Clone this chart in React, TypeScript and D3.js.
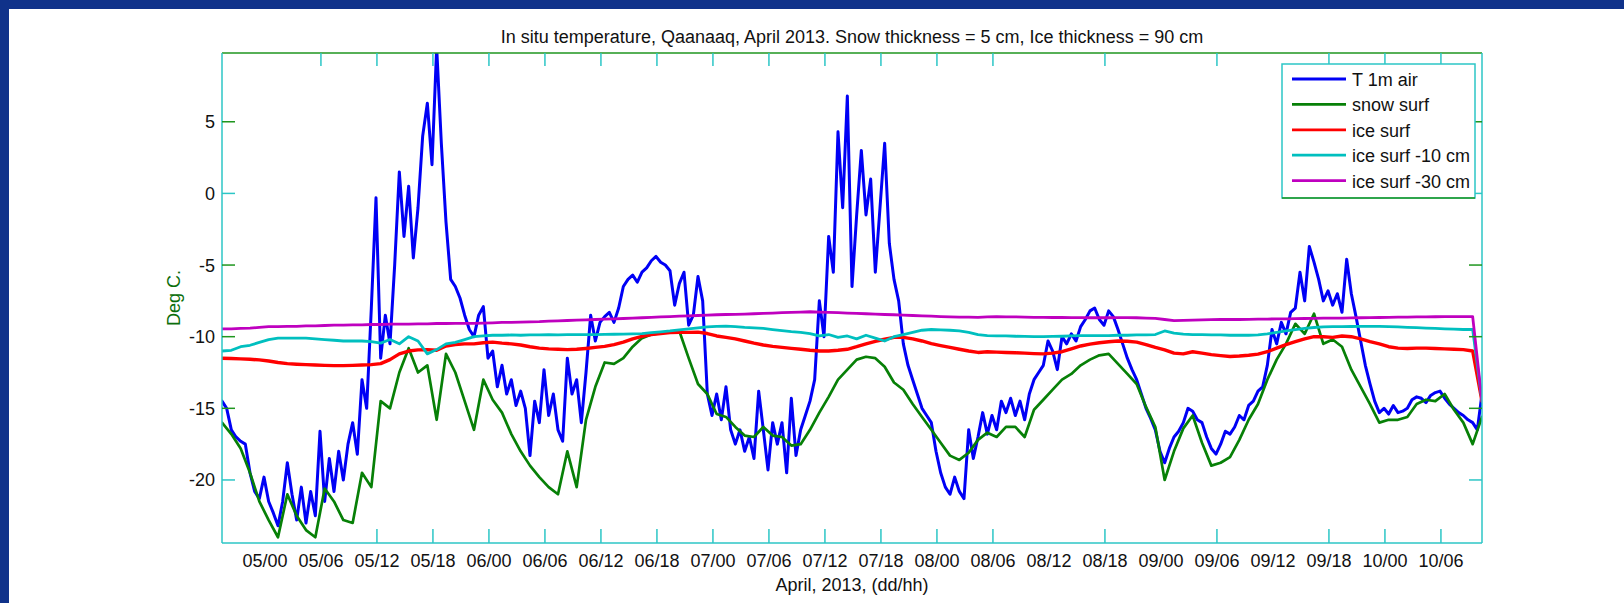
import React from "react";
import * as d3 from "d3";

// ---------- data ----------
const START = Date.UTC(2013, 3, 4, 19, 24); // first sample, 04/19:24
const END = Date.UTC(2013, 3, 10, 10, 24); // last sample, 10/10:24
const HOUR = 3600 * 1000;
const BLUE_STEP = 0.5; // hours
const SMOOTH_STEP = 1; // hours

const title = "In situ temperature, Qaanaaq, April 2013. Snow thickness = 5 cm, Ice thickness = 90 cm";
const xAxisTitle = "April, 2013, (dd/hh)";
const yAxisTitle = "Deg C.";

const xTickLabels = [
  "05/00", "05/06", "05/12", "05/18", "06/00", "06/06", "06/12", "06/18",
  "07/00", "07/06", "07/12", "07/18", "08/00", "08/06", "08/12", "08/18",
  "09/00", "09/06", "09/12", "09/18", "10/00", "10/06",
];
const hiddenBottomTicks = ["05/00", "05/06", "08/12", "09/00", "09/12"];
const hiddenTopTicks = ["05/00", "08/12", "09/00", "09/12"];
const yTicks = [5, 0, -5, -10, -15, -20];
const yTickLabels = ["5", "0", "-5", "-10", "-15", "-20"];

const seriesNames = ["T 1m air", "snow surf", "ice surf", "ice surf -10 cm", "ice surf -30 cm"];

// T 1m air, every 30 min
const airT = [
  -14.5, -15.0, -16.5, -17.0, -17.3, -17.5, -19.5, -20.8, -21.3, -19.8,
  -21.5, -22.3, -23.2, -21.5, -18.8, -21.0, -22.8, -20.5, -23.0, -20.8,
  -22.5, -16.6, -21.5, -18.5, -20.8, -18.0, -20.0, -17.5, -16.0, -18.2,
  -13.0, -15.0, -8.0, -0.3, -11.5, -8.5, -10.5, -5.0, 1.5, -3.0,
  0.5, -4.5, -1.0, 4.0, 6.3, 2.0, 10.2, 3.5, -2.0, -6.0,
  -6.5, -7.3, -8.5, -9.5, -10.0,
  -8.5, -7.9, -11.5, -11.0, -13.5,
  -12.0, -14.0, -13.0, -14.8, -13.8, -15.0, -18.3, -14.5, -16.0, -12.3,
  -15.5, -14.0, -16.5, -17.3, -11.5, -14.0, -13.0, -16.0, -12.5, -8.5,
  -10.3, -9.0, -8.6, -8.3, -9.0, -8.0, -6.5, -6.0, -5.7, -6.2,
  -5.5, -5.2, -4.7, -4.4, -4.8, -5.0, -5.4, -7.8, -6.3, -5.5,
  -9.2, -8.5, -5.8, -7.5, -14.0, -15.5, -14.0, -15.8, -13.5,
  -16.5, -17.5, -16.5, -18.0, -17.0, -18.5, -13.8, -16.5, -19.3, -16.0, -17.5,
  -16.0, -19.5, -14.3, -18.3, -16.5, -15.5, -14.5, -13.0, -7.5, -10.0,
  -3.0, -5.5, 4.3, -1.0, 6.8, -6.5, -1.5, 3.0, -1.5, 1.0,
  -5.5, -1.0, 3.5, -3.5, -6.0, -7.5, -10.5, -12.0, -13.0, -14.0,
  -15.0, -15.5, -16.0, -18.0, -19.5, -20.5, -21.0, -19.8, -20.8, -21.3,
  -16.5, -18.5, -17.0,
  -15.3, -16.8, -15.5, -16.5, -14.5, -15.3, -14.3,
  -15.5, -14.5, -15.8, -14.0, -13.0, -12.5, -12.0, -10.3, -11.0, -12.3,
  -10.0, -10.5, -9.8, -10.3, -9.3, -8.8, -8.2, -8.0, -8.8, -9.2,
  -8.2, -8.6, -9.5, -10.5, -11.5, -12.3, -13.0, -14.0, -15.0, -15.7,
  -16.5, -18.0, -18.8, -17.8, -17.0, -16.6, -16.0, -15.0, -15.2, -15.8,
  -16.0, -17.0, -17.8, -18.2, -17.5, -16.6, -16.8,
  -16.3, -15.5, -15.8,
  -14.8, -14.5, -13.8, -13.5, -12.0, -9.5, -10.5, -9.0, -9.8, -8.3,
  -8.0, -5.5, -7.5, -3.7, -4.8, -6.0, -7.5, -6.8, -7.8, -7.0,
  -8.3, -4.6, -7.0, -8.6, -10.3, -12.0, -13.3, -14.5, -15.3, -15.0,
  -15.4, -14.8, -15.3, -15.2, -15.0, -14.4, -14.2, -14.3, -14.6, -14.1,
  -13.9, -13.8, -14.3, -14.7, -15.0, -15.3, -15.5, -15.8, -16.0, -16.5, -14.0,
];

// snow surface, hourly
const snowSurf = [
  -16.0, -16.8, -17.8, -19.5, -21.5, -22.8, -24.0, -21.0, -22.5, -23.5,
  -24.0, -20.6, -21.5, -22.8, -23.0, -19.5, -20.5, -14.5, -15.0, -12.5,
  -10.8, -12.5, -12.0, -15.8, -11.2, -12.5, -14.5, -16.5, -13.0, -14.4,
  -15.3, -16.8, -18.0, -19.0, -19.8, -20.5, -21.0, -18.0, -20.5, -15.8,
  -13.5, -11.8, -11.9, -11.5, -10.7, -10.1, -9.85, -9.75, -9.65, -9.6,
  -11.5, -13.3, -14.0, -15.4, -15.6, -16.3, -16.9, -17.0, -16.3, -16.9,
  -17.0, -17.6, -17.5, -16.5, -15.3, -14.2, -13.0, -12.3, -11.6, -11.4,
  -11.5, -12.1, -13.2, -13.7, -14.7, -15.6, -16.5, -17.4, -18.3, -18.6,
  -18.1, -17.2, -16.7, -17.0, -16.3, -16.3, -17.0, -15.1, -14.4, -13.7,
  -13.0, -12.6, -12.0, -11.6, -11.3, -11.2, -11.9, -12.6, -13.3, -14.9,
  -16.3, -20.0, -18.0, -16.4, -15.5, -17.4, -19.0, -18.8, -18.4, -17.2,
  -15.8, -14.7, -13.0, -11.6, -10.5, -9.1, -9.8, -8.4, -10.5, -10.2,
  -10.7, -12.3, -13.5, -14.7, -16.0, -15.8, -15.8, -15.6, -14.7, -14.4,
  -14.5, -14.0, -15.1, -16.0, -17.5, -15.6,
];

// ice surface, hourly
const iceSurf = [
  -11.5, -11.52, -11.55, -11.58, -11.62, -11.7, -11.8, -11.88, -11.92, -11.95,
  -11.98, -12.0, -12.02, -12.02, -12.0, -11.98, -11.95, -11.88, -11.6, -11.2,
  -11.0, -10.92, -10.9, -10.95, -10.65, -10.55, -10.5, -10.5, -10.42, -10.38,
  -10.45, -10.5, -10.58, -10.7, -10.8, -10.85, -10.88, -10.9, -10.88, -10.82,
  -10.75, -10.68, -10.55, -10.38, -10.15, -9.98, -9.85, -9.78, -9.72, -9.7,
  -9.7, -9.68, -9.78, -9.95, -10.05, -10.15, -10.3, -10.45, -10.58, -10.68,
  -10.75, -10.82, -10.88, -10.95, -11.0, -11.0, -10.95, -10.88, -10.7, -10.5,
  -10.32, -10.18, -10.05, -10.05, -10.15, -10.3, -10.48, -10.62, -10.75, -10.88,
  -11.0, -11.1, -11.05, -11.08, -11.1, -11.12, -11.15, -11.18, -11.2, -11.15,
  -11.05, -10.85, -10.65, -10.52, -10.42, -10.35, -10.3, -10.32, -10.38, -10.55,
  -10.75, -10.92, -11.15, -11.2, -11.05, -11.15, -11.25, -11.32, -11.38, -11.35,
  -11.3, -11.22, -11.05, -10.8, -10.55, -10.35, -10.15, -10.0, -10.0, -10.05,
  -9.95, -10.0, -10.15, -10.35, -10.5, -10.7, -10.8, -10.82, -10.8, -10.8,
  -10.82, -10.85, -10.88, -10.9, -11.0, -14.5,
];

// ice surface -10 cm, hourly
const ice10 = [
  -11.0, -10.95, -10.7, -10.6, -10.4, -10.2, -10.1, -10.1, -10.1, -10.1,
  -10.15, -10.2, -10.25, -10.3, -10.3, -10.3, -10.35, -10.45, -10.2, -10.5,
  -10.0, -10.3, -11.2, -10.9, -10.5, -10.4, -10.2, -10.0, -9.95, -9.9,
  -9.9, -9.88, -9.9, -9.87, -9.88, -9.86, -9.87, -9.85, -9.86, -9.85,
  -9.85, -9.84, -9.83, -9.82, -9.8, -9.78, -9.72, -9.66, -9.6, -9.52,
  -9.45, -9.38, -9.32, -9.28, -9.27, -9.3, -9.35, -9.38, -9.42, -9.5,
  -9.58, -9.65, -9.7, -9.78, -9.95, -9.85, -10.05, -9.95, -10.15, -9.9,
  -10.1, -10.3, -10.0, -9.85, -9.7, -9.55, -9.5, -9.52, -9.55, -9.6,
  -9.7, -9.85, -9.92, -9.95, -9.95, -9.97, -9.98, -10.0, -10.0, -9.98,
  -9.97, -9.95, -9.93, -9.92, -9.92, -9.92, -9.9, -9.9, -9.88, -9.88,
  -9.85, -9.6, -9.75, -9.82, -9.85, -9.85, -9.88, -9.88, -9.9, -9.9,
  -9.9, -9.88, -9.8, -9.7, -9.6, -9.5, -9.42, -9.36, -9.32, -9.3,
  -9.3, -9.29, -9.28, -9.28, -9.28, -9.3, -9.32, -9.35, -9.37, -9.4,
  -9.42, -9.45, -9.47, -9.5, -9.5, -14.5,
];

// ice surface -30 cm, hourly
const ice30 = [
  -9.45, -9.45, -9.42, -9.4, -9.35, -9.3, -9.3, -9.28, -9.28, -9.25,
  -9.25, -9.22, -9.2, -9.2, -9.18, -9.18, -9.15, -9.15, -9.12, -9.12,
  -9.12, -9.1, -9.1, -9.08, -9.08, -9.07, -9.07, -9.07, -9.05, -9.03,
  -9.0, -9.0, -8.98, -8.96, -8.95, -8.92, -8.9, -8.87, -8.85, -8.82,
  -8.8, -8.78, -8.76, -8.73, -8.7, -8.68, -8.65, -8.62, -8.6, -8.57,
  -8.55, -8.52, -8.5, -8.47, -8.45, -8.44, -8.42, -8.4, -8.38, -8.35,
  -8.32, -8.3, -8.28, -8.26, -8.28, -8.3, -8.32, -8.35, -8.37, -8.4,
  -8.42, -8.45, -8.47, -8.5, -8.52, -8.55, -8.57, -8.6, -8.62, -8.63,
  -8.64, -8.65, -8.62, -8.6, -8.62, -8.62, -8.63, -8.65, -8.65, -8.66,
  -8.66, -8.67, -8.67, -8.68, -8.68, -8.68, -8.67, -8.67, -8.68, -8.7,
  -8.72, -8.8, -8.88, -8.86, -8.84, -8.82, -8.81, -8.8, -8.8, -8.8,
  -8.79, -8.78, -8.77, -8.76, -8.75, -8.74, -8.73, -8.72, -8.71, -8.7,
  -8.7, -8.69, -8.68, -8.67, -8.66, -8.65, -8.64, -8.63, -8.62, -8.62,
  -8.61, -8.6, -8.6, -8.6, -8.6, -14.5,
];

// ---------- styling ----------
const FONT = "'Liberation Sans', Arial, Helvetica, sans-serif";
const FRAME_BLUE = "#10328a";
const AXIS_CYAN = "#2cc6c6";
const AXIS_GREEN = "#1f961f";
const seriesColors = ["#0000f5", "#078007", "#ff0000", "#00bfbf", "#bf00bf"];
const seriesWidths = [3, 2.7, 3.4, 2.8, 2.8];
const yTickColors = [AXIS_GREEN, AXIS_CYAN, AXIS_GREEN, AXIS_GREEN, AXIS_GREEN, AXIS_CYAN];

const W = 1624;
const H = 603;
const P = { left: 222, right: 1482, top: 53, bottom: 543 };

function parseTick(s: string): Date {
  const day = +s.slice(0, 2);
  const hr = +s.slice(3, 5);
  return new Date(Date.UTC(2013, 3, day, hr));
}

export default function App() {
  const x = d3.scaleUtc().domain([new Date(START), new Date(END)]).range([P.left, P.right]);
  const y = d3.scaleLinear().domain([-24.4, 9.8]).range([P.bottom, P.top]);

  const mkLine = (step: number) =>
    d3
      .line<number>()
      .x((_, i) => x(new Date(START + i * step * HOUR)))
      .y((d) => y(d));

  const blueLine = mkLine(BLUE_STEP);
  const smoothLine = mkLine(SMOOTH_STEP);
  const paths = [
    blueLine(airT),
    smoothLine(snowSurf),
    smoothLine(iceSurf),
    smoothLine(ice10),
    smoothLine(ice30),
  ];

  const cx = (P.left + P.right) / 2;
  const legend = { x: 1282, y: 64, w: 193, h: 134 };

  return (
    <svg
      width={W}
      height={H}
      viewBox={`0 0 ${W} ${H}`}
      style={{ position: "absolute", left: 0, top: 0, background: "#fff" }}
      fontFamily={FONT}
    >
      <defs>
        <clipPath id="plot-clip">
          <rect x={P.left} y={P.top} width={P.right - P.left} height={P.bottom - P.top} />
        </clipPath>
      </defs>
      <rect x={0} y={0} width={W} height={H} fill="#fff" />
      {/* slide frame */}
      <rect x={0} y={0} width={W} height={9} fill={FRAME_BLUE} />
      <rect x={0} y={0} width={9} height={H} fill={FRAME_BLUE} />

      {/* title */}
      <text x={cx} y={43} textAnchor="middle" fontSize={18} fill="#111">
        {title}
      </text>

      {/* series */}
      <g clipPath="url(#plot-clip)" fill="none" strokeLinejoin="round" strokeLinecap="round">
        {paths.map((d, k) => (
          <path key={k} d={d || ""} stroke={seriesColors[k]} strokeWidth={seriesWidths[k]} />
        ))}
      </g>

      {/* axes box */}
      <line x1={P.left} x2={P.right} y1={P.top} y2={P.top} stroke={AXIS_GREEN} strokeWidth={1.5} />
      <line x1={P.left} x2={P.right} y1={P.bottom} y2={P.bottom} stroke={AXIS_CYAN} strokeWidth={1.5} />
      <line x1={P.left} x2={P.left} y1={P.top} y2={P.bottom} stroke={AXIS_CYAN} strokeWidth={1.5} />
      <line x1={P.right} x2={P.right} y1={P.top} y2={P.bottom} stroke={AXIS_CYAN} strokeWidth={1.5} />

      {/* x ticks */}
      {xTickLabels.map((lab) => {
        const xx = x(parseTick(lab));
        return (
          <g key={lab}>
            {!hiddenBottomTicks.includes(lab) && (
              <line x1={xx} x2={xx} y1={P.bottom} y2={P.bottom - 14} stroke={AXIS_CYAN} strokeWidth={1.5} />
            )}
            {!hiddenTopTicks.includes(lab) && (
              <line x1={xx} x2={xx} y1={P.top} y2={P.top + 13} stroke={AXIS_CYAN} strokeWidth={1.5} />
            )}
            <text x={xx} y={567} textAnchor="middle" fontSize={18} fill="#111">
              {lab}
            </text>
          </g>
        );
      })}

      {/* y ticks */}
      {yTicks.map((v, k) => {
        const yy = y(v);
        return (
          <g key={v}>
            <line x1={P.left} x2={P.left + 13} y1={yy} y2={yy} stroke={yTickColors[k]} strokeWidth={1.5} />
            <line x1={P.right} x2={P.right - 13} y1={yy} y2={yy} stroke={yTickColors[k]} strokeWidth={1.5} />
            <text x={215} y={yy + 6.5} textAnchor="end" fontSize={18} fill="#111">
              {yTickLabels[k]}
            </text>
          </g>
        );
      })}

      {/* axis titles */}
      <text x={cx} y={591} textAnchor="middle" fontSize={18} fill="#111">
        {xAxisTitle}
      </text>
      <text
        transform={`translate(180, 298) rotate(-90)`}
        textAnchor="middle"
        fontSize={18}
        fill="#0b6e0b"
      >
        {yAxisTitle}
      </text>

      {/* legend */}
      <rect x={legend.x} y={legend.y} width={legend.w} height={legend.h} fill="#fff" stroke={AXIS_CYAN} strokeWidth={1.5} />
      <line
        x1={legend.x}
        x2={legend.x + legend.w}
        y1={legend.y + legend.h}
        y2={legend.y + legend.h}
        stroke={AXIS_GREEN}
        strokeWidth={1.5}
      />
      {seriesNames.map((name, k) => {
        const ly = 79 + k * 25.4;
        return (
          <g key={name}>
            <line x1={1292} x2={1346} y1={ly} y2={ly} stroke={seriesColors[k]} strokeWidth={2.8} />
            <text x={1352} y={ly + 7} fontSize={18} fill="#111">
              {name}
            </text>
          </g>
        );
      })}
    </svg>
  );
}
